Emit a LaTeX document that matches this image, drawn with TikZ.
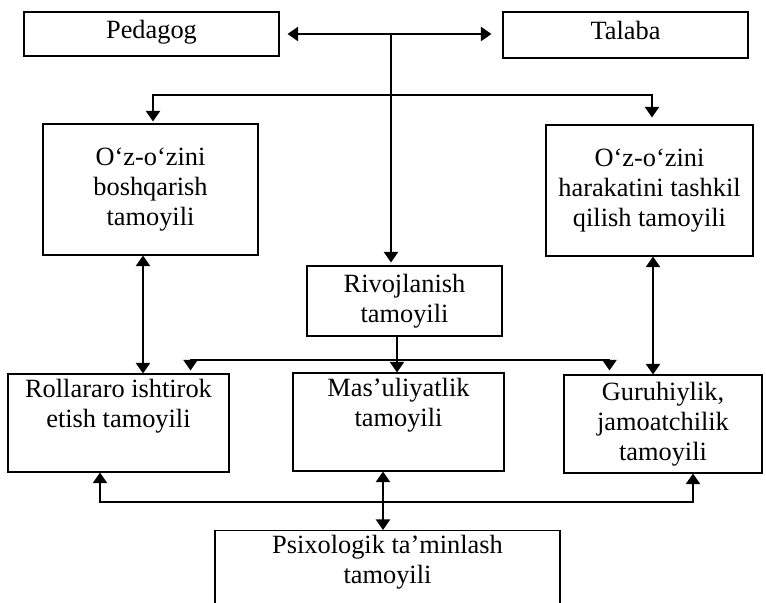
\documentclass[tikz,border=0pt]{standalone}
\usepackage{fontspec}
\setmainfont{Liberation Serif}
\usepackage{tikz}
\usetikzlibrary{calc, arrows.meta, positioning}

\tikzset{
    box/.style={draw, line width=0.6pt, align=center,
        font=\fontsize{15}{17}\selectfont, inner sep=0pt},
    onebox/.style={box, text height=10pt, text depth=5pt},
    link/.style={line width=1.1pt}
}

\begin{document}
\begin{tikzpicture}[>={Triangle[length=6pt, width=8pt]}]

    % =================================================================
    % 1. FRAME OF THE PICTURE
    % =================================================================
    \useasboundingbox (0,0) rectangle (15.32,-12.06);
    \clip (0,0) rectangle (15.32,-12.06);

    % =================================================================
    % 2. BOXES
    % =================================================================
    % Top row
    \node[onebox, minimum width=5.10cm, minimum height=0.88cm] (ped) at (3.03,-0.68) {Pedagog};
    \node[onebox, minimum width=4.90cm, minimum height=0.92cm] (tal) at (12.51,-0.70) {Talaba};

    % Second row
    \node[box, minimum width=4.30cm, minimum height=2.62cm] (own) at (3.01,-3.79)
        {O‘z-o‘zini\\ boshqarish\\ tamoyili};
    \node[box, minimum width=4.14cm, minimum height=2.62cm] (act) at (12.99,-3.81)
        {O‘z-o‘zini\\ harakatini tashkil\\ qilish tamoyili};
    \node[box, minimum width=3.90cm, minimum height=1.40cm] (dev) at (8.09,-6.02)
        {Rivojlanish\\ tamoyili};

    % Third row (text sits at the top of the box)
    \node[box, minimum width=4.42cm, minimum height=1.96cm] (role) at (2.37,-8.46)
        {Rollararo ishtirok\\ etish tamoyili\\ \strut};
    \node[box, minimum width=4.22cm, minimum height=1.96cm] (resp) at (7.97,-8.44)
        {Mas’uliyatlik\\ tamoyili\\ \strut};
    \node[box, minimum width=3.96cm, minimum height=1.96cm] (team) at (13.26,-8.48)
        {Guruhiylik,\\ jamoatchilik\\ tamoyili};

    % Bottom box, cut by the lower edge
    \node[box, minimum width=6.90cm, minimum height=2.40cm, anchor=north,
        text depth=1.25cm] (psy) at (7.75,-10.60)
        {Psixologik ta’minlash\\ tamoyili};

    % =================================================================
    % 3. CONNECTORS
    % =================================================================
    % Pedagog <-> Talaba and the stem going down
    \coordinate (hub) at ($(ped.east)!0.5!(tal.west)$);
    \draw[link, <->, shorten <=0.16cm, shorten >=0.22cm] (ped.east) -- (ped.east -| tal.west);
    \draw[link, ->, shorten >=0.06cm] (hub) -- (hub |- dev.north);

    % Fork to the two self-principles
    \coordinate (fork) at (hub |- 0,-1.90);
    \draw[link, ->, shorten >=0.04cm] (fork) -| ([xshift=0.05cm]own.north);
    \draw[link, ->, shorten >=0.14cm] (fork) -| ([xshift=0.05cm]act.north);

    % Self-principles <-> third row
    \draw[link, <->] ([xshift=-0.15cm]own.south) -- ([xshift=-0.15cm]own.south |- role.north);
    \draw[link, <->] ([xshift=0.07cm]act.south) -- ([xshift=0.07cm]act.south |- team.north);

    % Rivojlanish down to the third row
    \coordinate (split) at ([xshift=-0.03cm]resp.north |- 0,-7.20);
    \draw[link, ->] ([xshift=-0.03cm]resp.north |- dev.south) -- ([xshift=-0.03cm]resp.north);
    \draw[link, ->, shorten >=0.06cm] (split) -| ([xshift=-0.78cm]role.north east);
    \draw[link, ->, shorten >=0.08cm] (split) -| ([xshift=0.92cm]team.north west);

    % Psixologik ta'minlash up to the third row
    \coordinate (join) at ([xshift=-0.31cm]resp.south |- 0,-10.04);
    \draw[link, <->] ([xshift=-0.31cm]resp.south) -- ([xshift=-0.31cm]resp.south |- psy.north);
    \draw[link, ->] (join) -| ([xshift=-0.37cm]role.south);
    \draw[link, ->] (join) -| ([xshift=0.60cm]team.south);

\end{tikzpicture}
\end{document}
